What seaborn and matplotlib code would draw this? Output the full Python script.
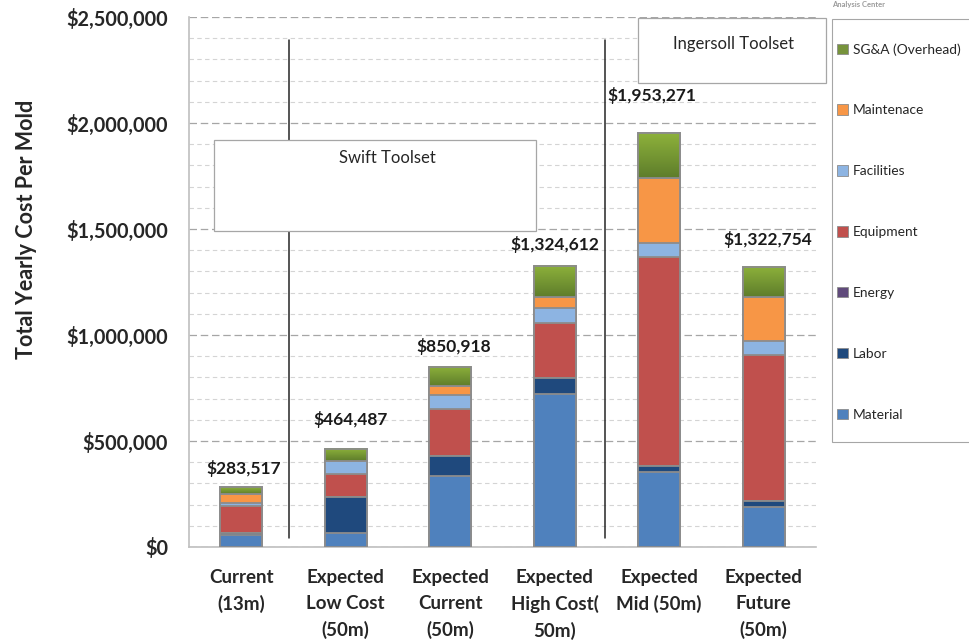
import numpy as np
import pandas as pd
import matplotlib
matplotlib.use("Agg")
import matplotlib.pyplot as plt
from matplotlib.patches import Patch, Rectangle
from matplotlib.colors import LinearSegmentedColormap
from matplotlib.ticker import MultipleLocator, FuncFormatter
import seaborn as sns

# scenarios (x axis)
scenarios = ["Current\n(13m)", "Expected\nLow Cost\n(50m)", "Expected\nCurrent\n(50m)",
             "Expected\nHigh Cost(\n50m)", "Expected\nMid (50m)", "Expected\nFuture\n(50m)"]

# cost components, bottom to top
material = [58000, 65000, 336000, 722000, 355000, 187000]
labor = [9000, 169000, 95000, 77000, 29000, 31000]
energy = [500, 500, 0, 0, 0, 0]
equipment = [126000, 110000, 219000, 259000, 985000, 688000]
facilities = [16000, 63000, 66000, 68000, 64000, 67000]
maintenance = [41000, 0, 42000, 52000, 309000, 205000]
sga = [33017, 56987, 92918, 146612, 211271, 144754]

totals = [283517, 464487, 850918, 1324612, 1953271, 1322754]

components = ["Material", "Labor", "Energy", "Equipment", "Facilities", "Maintenace", "SG&A (Overhead)"]
colors = ["#4F81BD", "#1F497D", "#604A7B", "#C0504D", "#8DB4E2", "#F79646", "#77933C"]

df = pd.DataFrame({
    "Scenario": scenarios,
    "Material": material,
    "Labor": labor,
    "Energy": energy,
    "Equipment": equipment,
    "Facilities": facilities,
    "Maintenace": maintenance,
    "SG&A (Overhead)": sga,
})

sns.set_style("white")
plt.rcParams["font.family"] = ["Lato", "DejaVu Sans"]

fig = plt.figure(figsize=(9.69, 6.43), dpi=100)
ax = fig.add_axes([189 / 969, 96 / 643, 627 / 969, 530 / 643])

# stacked bars: draw cumulative sums from the top layer down
cum = df[components].cumsum(axis=1)
for comp, col in zip(components[::-1], colors[::-1]):
    sns.barplot(x=df["Scenario"], y=cum[comp], color=col, width=0.4,
                edgecolor="#8C8C8C", linewidth=1.3, saturation=1, ax=ax, zorder=3)

# green gradient on the SG&A segment (first layer drawn)
green = LinearSegmentedColormap.from_list("g", ["#5E7D2B", "#8DB13B"])
grad = np.linspace(0, 1, 100).reshape(-1, 1)
for i, p in enumerate(ax.patches[:len(scenarios)]):
    x0, w = p.get_x(), p.get_width()
    y0, y1 = cum["Maintenace"][i], cum["SG&A (Overhead)"][i]
    ax.imshow(grad, cmap=green, origin="lower", aspect="auto",
              extent=(x0, x0 + w, y0, y1), zorder=3.5)
    ax.add_patch(Rectangle((x0, y0), w, y1 - y0, facecolor="none",
                           edgecolor="#8C8C8C", lw=1.3, zorder=3.6))

ax.set_ylim(0, 2500000)
ax.set_xlim(-0.5, 5.5)
ax.yaxis.set_major_locator(MultipleLocator(500000))
ax.yaxis.set_minor_locator(MultipleLocator(100000))
ax.yaxis.set_major_formatter(FuncFormatter(lambda v, p: f"${v:,.0f}"))
ax.grid(axis="y", which="major", color="#A6A6A6", linestyle=(0, (6, 3)), linewidth=0.9, zorder=0)
ax.grid(axis="y", which="minor", color="#D4D4D4", linestyle=(0, (4, 3)), linewidth=0.8, zorder=0)
ax.set_axisbelow(True)
ax.set_xlabel("")
ax.set_ylabel("")

for s in ["top", "right"]:
    ax.spines[s].set_visible(False)
for s in ["left", "bottom"]:
    ax.spines[s].set_color("#BFBFBF")
    ax.spines[s].set_linewidth(1.2)

ax.set_xticks(range(len(scenarios)))
ax.set_xticklabels(scenarios, fontsize=13.5, fontweight="bold", linespacing=1.6)
ax.set_xticks(np.arange(-0.5, 6, 1), minor=True)
ax.tick_params(axis="x", which="major", length=0, pad=16)
ax.tick_params(axis="x", which="minor", length=5, color="#BFBFBF", direction="out")
ax.tick_params(axis="y", which="major", length=5, color="#BFBFBF", labelsize=14.3, pad=10)
ax.tick_params(axis="y", which="minor", length=0)
for lbl in ax.get_yticklabels():
    lbl.set_fontweight("bold")

# total labels
offsets = [85000, 135000, 95000, 100000, 175000, 130000]
xshift = [0.02, 0.05, 0.03, 0.0, -0.07, 0.04]
for i, (t, off) in enumerate(zip(totals, offsets)):
    ax.text(i + xshift[i], t + off, f"${t:,.0f}", ha="center", va="center",
            fontsize=12.5, fontweight="bold", color="#1A1A1A", zorder=5)

# separator lines
ax.plot([0.46, 0.46], [42000, 2390000], color="#262626", lw=1.1, zorder=4)
ax.plot([3.48, 3.48], [42000, 2390000], color="#262626", lw=1.1, zorder=4)

# toolset boxes
ax.add_patch(Rectangle((0.04, 0.596), 0.513, 0.172, transform=ax.transAxes,
                       facecolor="white", edgecolor="#A6A6A6", lw=0.9, zorder=6))
ax.text(0.317, 0.734, "Swift Toolset", transform=ax.transAxes, ha="center", va="center",
        fontsize=12, color="#262626", zorder=7)
ax.add_patch(Rectangle((0.716, 0.875), 0.30, 0.123, transform=ax.transAxes,
                       facecolor="white", edgecolor="#A6A6A6", lw=0.9, zorder=6, clip_on=False))
ax.text(0.868, 0.949, "Ingersoll Toolset", transform=ax.transAxes, ha="center", va="center",
        fontsize=12, color="#262626", zorder=7)

fig.text(27 / 969, 1 - 229 / 643, "Total Yearly Cost Per Mold", rotation=90,
         ha="center", va="center", fontsize=15.5, fontweight="bold")

fig.text(832 / 969, 1 - 5 / 643, "Analysis Center", ha="left", va="center",
         fontsize=5.5, fontweight="bold", color="#9A9A9A")

# legend frame running past the right edge
fig.patches.append(Rectangle((832 / 969, 1 - 442 / 643), 0.2, 423 / 643,
                             transform=fig.transFigure, facecolor="white",
                             edgecolor="#A6A6A6", lw=0.8, zorder=1))
handles = [Patch(facecolor=c, edgecolor="#8C8C8C", lw=0.6, label=n)
           for n, c in zip(components[::-1], colors[::-1])]
leg = fig.legend(handles=handles, loc="upper left", bbox_to_anchor=(837 / 969, 1 - 43 / 643),
                 frameon=False, fontsize=9.9, labelspacing=3.55,
                 handlelength=0.8, handleheight=0.8, handletextpad=0.35,
                 borderpad=0, borderaxespad=0)
leg.set_zorder(2)

fig.savefig("out.png", dpi=100)
